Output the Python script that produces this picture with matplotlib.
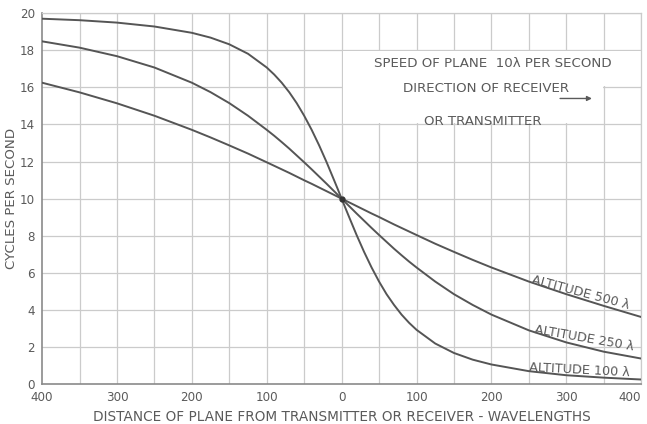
import matplotlib
matplotlib.use('Agg')
import matplotlib.pyplot as plt
from matplotlib.patches import Rectangle

# distance of plane, wavelengths (negative = approaching)
distance = [-400, -350, -300, -250, -200, -175, -150, -125, -100, -90, -80, -70, -60, -50, -40, -30, -20, -10, -5,
            0, 5, 10, 20, 30, 40, 50, 60, 70, 80, 90, 100, 125, 150, 175, 200, 250, 300, 350, 400]

# cycles per second
alt_100 = [19.70, 19.62, 19.49, 19.28, 18.94, 18.68, 18.32, 17.81, 17.07, 16.69, 16.25, 15.74, 15.15, 14.47,
           13.71, 12.87, 11.96, 10.99, 10.50,
           10.00,
           9.50, 9.01, 8.04, 7.13, 6.29, 5.53, 4.85, 4.27, 3.75, 3.31, 2.93, 2.19, 1.68, 1.32, 1.06,
           0.70, 0.48, 0.35, 0.25]
alt_250 = [18.48, 18.14, 17.68, 17.07, 16.25, 15.74, 15.15, 14.47, 13.71, 13.39, 13.05, 12.70, 12.33, 11.96,
           11.58, 11.19, 10.80, 10.40, 10.20,
           10.00,
           9.80, 9.60, 9.20, 8.81, 8.42, 8.04, 7.67, 7.30, 6.95, 6.61, 6.29, 5.53, 4.85, 4.27, 3.75,
           2.90, 2.25, 1.75, 1.38]
alt_500 = [16.25, 15.73, 15.14, 14.47, 13.71, 13.30, 12.87, 12.43, 11.96, 11.77, 11.58, 11.39, 11.19, 10.99,
           10.80, 10.60, 10.40, 10.20, 10.10,
           10.00,
           9.90, 9.80, 9.60, 9.40, 9.20, 9.01, 8.81, 8.61, 8.42, 8.23, 8.04, 7.57, 7.13, 6.70, 6.29,
           5.53, 4.85, 4.22, 3.62]

x_ticks = [-400, -300, -200, -100, 0, 100, 200, 300, 400]
x_tick_labels = ['400', '300', '200', '100', '0', '100', '200', '300', '400']
y_ticks = [0, 2, 4, 6, 8, 10, 12, 14, 16, 18, 20]

ink = '#555555'
text_col = '#5a5a5a'
grid_col = '#cbcbcb'

fig = plt.figure(figsize=(6.47, 4.24), dpi=100)
ax = fig.add_axes([0.065, 0.094, 0.926, 0.875])

ax.set_xlim(-400, 400)
ax.set_ylim(0, 20)

# light grid: every 50 wavelengths and every 2 cycles
for gx in range(-350, 401, 50):
    ax.axvline(gx, color=grid_col, lw=0.9, zorder=0)
for gy in range(2, 21, 2):
    ax.axhline(gy, color=grid_col, lw=0.9, zorder=0)

# blank space left for the notes
ax.add_patch(Rectangle((1.5, 14.06), 348, 3.88, facecolor='white', edgecolor='none', zorder=1))
ax.add_patch(Rectangle((349, 16.06), 51, 1.88, facecolor='white', edgecolor='none', zorder=1))

for vals in (alt_100, alt_250, alt_500):
    ax.plot(distance, vals, color=ink, lw=1.4, zorder=3)

ax.plot([0], [10], 'o', color='#333333', ms=3.5, zorder=4)

txt = dict(color=text_col, fontsize=9.2, family='DejaVu Sans')
ax.text(319, 4.95, 'ALTITUDE 500 λ', rotation=-15, ha='center', va='center', zorder=5, **txt)
ax.text(324, 2.45, 'ALTITUDE 250 λ', rotation=-10, ha='center', va='center', zorder=5, **txt)
ax.text(318, 0.78, 'ALTITUDE 100 λ', rotation=-3, ha='center', va='center', zorder=5, **txt)

note = dict(color=text_col, fontsize=9.6, family='DejaVu Sans')
ax.text(202, 17.3, 'SPEED OF PLANE  10λ PER SECOND', ha='center', va='center', zorder=5, **note)
ax.text(193, 15.95, 'DIRECTION OF RECEIVER', ha='center', va='center', zorder=5, **note)
ax.text(188, 14.15, 'OR TRANSMITTER', ha='center', va='center', zorder=5, **note)
ax.annotate('', xy=(338, 15.4), xytext=(288, 15.4),
            arrowprops=dict(arrowstyle='-|>', color=text_col, lw=1.0, mutation_scale=7), zorder=5)

ax.set_xticks(x_ticks)
ax.set_xticklabels(x_tick_labels)
ax.set_yticks(y_ticks)
ax.tick_params(length=0, labelsize=8.6, colors=text_col)
ax.tick_params(axis='x', pad=5)
ax.tick_params(axis='y', pad=5)
ax.get_xticklabels()[-1].set_ha('right')
ax.get_xticklabels()[-1].set_x(404)

ax.set_xlabel('DISTANCE OF PLANE FROM TRANSMITTER OR RECEIVER - WAVELENGTHS',
              fontsize=9.8, color=text_col, labelpad=4)
ax.set_ylabel('CYCLES PER SECOND', fontsize=9.6, color=text_col, labelpad=1)

for side in ('left', 'bottom'):
    ax.spines[side].set_color('#8a8a8a')
    ax.spines[side].set_linewidth(1.2)
for side in ('top', 'right'):
    ax.spines[side].set_color(grid_col)
    ax.spines[side].set_linewidth(0.9)

fig.savefig('out.png', dpi=100)
